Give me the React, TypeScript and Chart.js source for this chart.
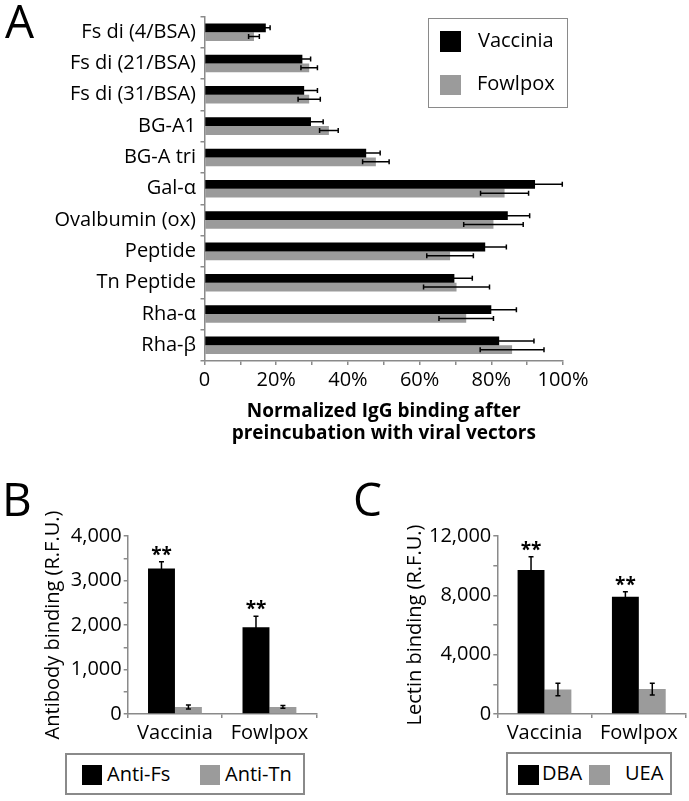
import React, { useEffect, useRef } from 'react';
import { Chart, registerables } from 'chart.js';

Chart.register(...registerables);

// ---------- Data ----------
// Panel A
const glycans = ['Fs di (4/BSA)', 'Fs di (21/BSA)', 'Fs di (31/BSA)', 'BG-A1', 'BG-A tri', 'Gal-α', 'Ovalbumin (ox)', 'Peptide', 'Tn Peptide', 'Rha-α', 'Rha-β'];
const vacciniaA = [17.1, 27.3, 27.8, 29.7, 45.1, 92.2, 84.6, 78.3, 69.7, 80.0, 82.2];
const vacciniaAErr = [1.2, 2.3, 3.7, 3.4, 3.9, 7.6, 6.1, 5.9, 5.0, 7.0, 9.7];
const fowlpoxA = [13.8, 29.2, 29.2, 34.7, 47.8, 83.7, 80.6, 68.5, 70.3, 73.0, 85.8];
const fowlpoxAErr = [1.5, 2.3, 3.1, 2.6, 3.7, 6.7, 8.3, 6.5, 9.2, 7.6, 8.9];
const seriesA = ['Vaccinia', 'Fowlpox'];
const titleA = ['Normalized IgG binding after', 'preincubation with viral vectors'];

// Panel B
const viruses = ['Vaccinia', 'Fowlpox'];
const antiFs = [3270, 1950];
const antiFsErr = [150, 245];
const antiTn = [160, 160];
const antiTnErr = [45, 30];
const starsB = ['**', '**'];
const seriesB = ['Anti-Fs', 'Anti-Tn'];
const titleB = 'Antibody binding (R.F.U.)';

// Panel C
const dba = [9700, 7900];
const dbaErr = [900, 350];
const uea = [1650, 1680];
const ueaErr = [420, 400];
const starsC = ['**', '**'];
const seriesC = ['DBA', 'UEA'];
const titleC = 'Lectin binding (R.F.U.)';

// ---------- Styles ----------
const FAMILY = '"Open Sans", "Noto Sans", sans-serif';
const BLACK = '#000000';
const GREY = '#9b9b9b';
const AXIS = '#8a8a8a';

const errorBarPlugin = {
  id: 'errorBars',
  afterDatasetsDraw(chart: any) {
    const ctx = chart.ctx;
    const horizontal = chart.options.indexAxis === 'y';
    const valueScale = horizontal ? chart.scales.x : chart.scales.y;
    chart.data.datasets.forEach((ds: any, di: number) => {
      if (!ds.errors) return;
      const meta = chart.getDatasetMeta(di);
      const cap = ds.errorCap ?? 2.5;
      meta.data.forEach((el: any, i: number) => {
        const v = ds.data[i];
        const e = ds.errors[i];
        const lo = valueScale.getPixelForValue(v - e);
        const hi = valueScale.getPixelForValue(v + e);
        ctx.save();
        ctx.strokeStyle = '#000';
        ctx.lineWidth = ds.errorWidth ?? 1.5;
        ctx.beginPath();
        if (horizontal) {
          const y = el.y;
          ctx.moveTo(lo, y); ctx.lineTo(hi, y);
          ctx.moveTo(lo, y - cap); ctx.lineTo(lo, y + cap);
          ctx.moveTo(hi, y - cap); ctx.lineTo(hi, y + cap);
        } else {
          const x = el.x;
          ctx.moveTo(x, lo); ctx.lineTo(x, hi);
          ctx.moveTo(x - cap, lo); ctx.lineTo(x + cap, lo);
          ctx.moveTo(x - cap, hi); ctx.lineTo(x + cap, hi);
        }
        ctx.stroke();
        if (ds.stars && ds.stars[i]) {
          ctx.fillStyle = '#000';
          ctx.font = `bold 19px ${FAMILY}`;
          ctx.textAlign = 'center';
          ctx.textBaseline = 'alphabetic';
          ctx.fillText(ds.stars[i], el.x, hi - 1);
        }
        ctx.restore();
      });
    });
  },
};

function tickFont(size: number) {
  return { family: FAMILY, size };
}

function makeA(canvas: HTMLCanvasElement) {
  return new Chart(canvas, {
    type: 'bar',
    data: {
      labels: glycans,
      datasets: [
        { label: seriesA[0], data: vacciniaA, errors: vacciniaAErr, errorCap: 2.5, backgroundColor: BLACK, categoryPercentage: 0.56, barPercentage: 1 } as any,
        { label: seriesA[1], data: fowlpoxA, errors: fowlpoxAErr, errorCap: 2.5, backgroundColor: GREY, categoryPercentage: 0.56, barPercentage: 1 } as any,
      ],
    },
    options: {
      indexAxis: 'y',
      responsive: false,
      animation: false,
      layout: { padding: { left: 0, right: 126, top: 6.5, bottom: 0 } },
      plugins: { legend: { display: false }, tooltip: { enabled: false } },
      scales: {
        x: {
          min: 0,
          max: 100,
          ticks: {
            stepSize: 10,
            autoSkip: false,
            maxRotation: 0,
            color: '#000',
            font: tickFont(20),
            padding: 3,
            callback: (v: any) => (v === 0 ? '0' : v % 20 === 0 ? `${v}%` : ''),
          },
          grid: { drawOnChartArea: false, drawTicks: true, tickLength: 4, color: AXIS, lineWidth: 1.5 },
          border: { color: AXIS, width: 1.5 },
          title: { display: true, text: titleA, color: '#000', font: { family: FAMILY, size: 19, weight: 'bold', lineHeight: 22 / 19 }, padding: 0 },
          afterFit: (s: any) => { s.height = 84; },
        },
        y: {
          ticks: { color: '#000', font: tickFont(20), padding: 4.5, autoSkip: false },
          grid: { drawOnChartArea: false, drawTicks: true, tickLength: 4, color: AXIS, lineWidth: 1.5 },
          border: { color: AXIS, width: 1.5 },
          afterFit: (s: any) => { s.width = 204.5; },
        },
      },
    } as any,
    plugins: [errorBarPlugin],
  });
}

function makeSmall(
  canvas: HTMLCanvasElement,
  s1: number[], e1: number[], st: string[], s2: number[], e2: number[],
  names: string[], max: number, step: number, labelEvery: number,
  title: string, axisWidth: number, titlePad: number, padRight: number,
) {
  return new Chart(canvas, {
    type: 'bar',
    data: {
      labels: viruses,
      datasets: [
        { label: names[0], data: s1, errors: e1, stars: st, errorCap: 2.5, backgroundColor: BLACK, categoryPercentage: 0.57, barPercentage: 1 } as any,
        { label: names[1], data: s2, errors: e2, errorCap: 2.5, backgroundColor: GREY, categoryPercentage: 0.57, barPercentage: 1 } as any,
      ],
    },
    options: {
      responsive: false,
      animation: false,
      layout: { padding: { left: 0, right: padRight, top: 36, bottom: 0 } },
      plugins: { legend: { display: false }, tooltip: { enabled: false } },
      scales: {
        x: {
          ticks: { color: '#000', font: tickFont(20), padding: 3 },
          grid: { drawOnChartArea: false, drawTicks: true, tickLength: 4, color: AXIS, lineWidth: 1.5 },
          border: { color: AXIS, width: 1.5 },
          afterFit: (s: any) => { s.height = 36; },
        },
        y: {
          min: 0,
          max,
          ticks: {
            stepSize: step,
            autoSkip: false,
            color: '#000',
            font: tickFont(20),
            padding: 2,
            callback: (v: any) => (v % labelEvery === 0 ? Number(v).toLocaleString('en-US') : ''),
          },
          grid: { drawOnChartArea: false, drawTicks: true, tickLength: 4, color: AXIS, lineWidth: 1.5 },
          border: { color: AXIS, width: 1.5 },
          title: { display: true, text: title, color: '#000', font: { family: FAMILY, size: 20, lineHeight: 1.2 }, padding: { top: titlePad, bottom: 0 } },
          afterFit: (s: any) => { s.width = axisWidth; },
        },
      },
    } as any,
    plugins: [errorBarPlugin],
  });
}

const abs = (left: number, top: number, extra: any = {}): React.CSSProperties => ({ position: 'absolute', left, top, ...extra });
const textStyle = (left: number, top: number, size = 20): React.CSSProperties =>
  abs(left, top, { fontFamily: FAMILY, fontSize: size, lineHeight: `${size}px`, color: '#000', whiteSpace: 'nowrap' });

export default function App() {
  const refA = useRef<HTMLCanvasElement>(null);
  const refB = useRef<HTMLCanvasElement>(null);
  const refC = useRef<HTMLCanvasElement>(null);

  useEffect(() => {
    const a = makeA(refA.current!);
    const b = makeSmall(refB.current!, antiFs, antiFsErr, starsB, antiTn, antiTnErr, seriesB, 4000, 500, 1000, titleB, 127.7, 41, 23.3);
    const c = makeSmall(refC.current!, dba, dbaErr, starsC, uea, ueaErr, seriesC, 12000, 2000, 4000, titleC, 157.3, 63, 3);
    return () => { a.destroy(); b.destroy(); c.destroy(); };
  }, []);

  const box = (l: number, t: number, w: number, h: number, bw: number) =>
    abs(l, t, { width: w, height: h, border: `${bw}px solid ${AXIS}`, boxSizing: 'border-box' });
  const sq = (l: number, t: number, w: number, h: number, c: string) => abs(l, t, { width: w, height: h, background: c });

  return (
    <div style={{ position: 'absolute', left: 0, top: 0, width: 689, height: 801, background: '#fff', overflow: 'hidden' }}>
      <canvas ref={refA} width={689} height={445} style={abs(0, 0)} />
      <canvas ref={refB} width={340} height={250} style={abs(0, 500)} />
      <canvas ref={refC} width={349} height={250} style={abs(340, 500)} />

      <div style={textStyle(5, -3, 46)}>A</div>
      <div style={textStyle(2, 475, 46)}>B</div>
      <div style={textStyle(353, 475, 46)}>C</div>

      {/* Legend A */}
      <div style={box(428, 18, 140, 90, 1.5)} />
      <div style={sq(440, 31, 21, 21, BLACK)} />
      <div style={textStyle(478, 30.2)}>{seriesA[0]}</div>
      <div style={sq(440, 75, 21, 20, GREY)} />
      <div style={textStyle(477, 73.4)}>{seriesA[1]}</div>

      {/* Legend B */}
      <div style={box(65, 753, 240, 42, 2)} />
      <div style={sq(82, 765, 20, 20, BLACK)} />
      <div style={textStyle(107, 764.4)}>{seriesB[0]}</div>
      <div style={sq(200, 765, 20, 20, GREY)} />
      <div style={textStyle(225, 764.4)}>{seriesB[1]}</div>

      {/* Legend C */}
      <div style={box(506, 752, 166, 43, 2)} />
      <div style={sq(518, 765, 21, 20, BLACK)} />
      <div style={textStyle(542, 763.4)}>{seriesC[0]}</div>
      <div style={sq(589, 765, 21, 20, GREY)} />
      <div style={textStyle(625, 763.4)}>{seriesC[1]}</div>
    </div>
  );
}
